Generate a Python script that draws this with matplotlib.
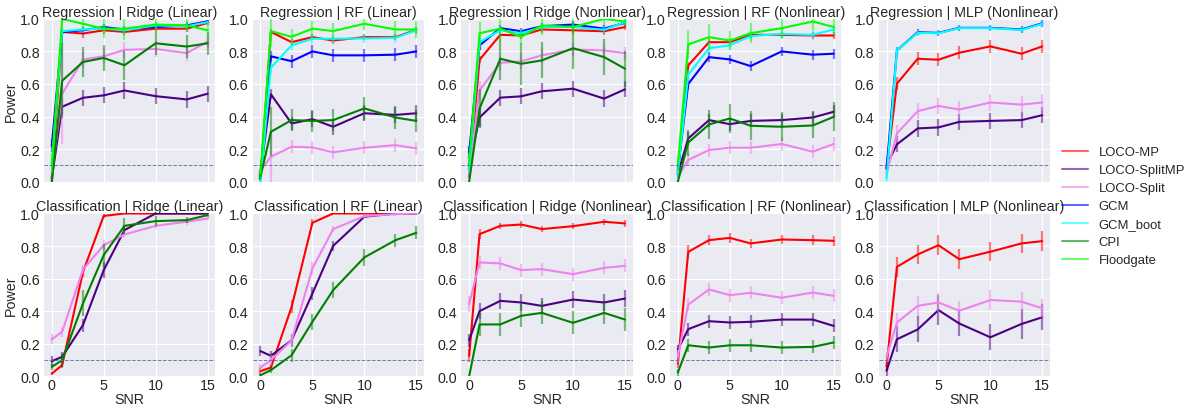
import matplotlib
matplotlib.use('Agg')
import matplotlib.pyplot as plt
from matplotlib.lines import Line2D
import numpy as np

plt.style.use('seaborn-v0_8-darkgrid')
plt.rcParams['font.family'] = ['Liberation Sans', 'DejaVu Sans']

snr = [0, 1, 3, 5, 7, 10, 13, 15]

methods = ['LOCO-MP', 'LOCO-SplitMP', 'LOCO-Split', 'GCM', 'GCM_boot', 'CPI', 'Floodgate']
colors = {'LOCO-MP': 'red', 'LOCO-SplitMP': 'indigo', 'LOCO-Split': 'violet',
          'GCM': 'blue', 'GCM_boot': 'cyan', 'CPI': 'green', 'Floodgate': 'lime'}

titles = ['Regression | Ridge (Linear)', 'Regression | RF (Linear)',
          'Regression | Ridge (Nonlinear)', 'Regression | RF (Nonlinear)',
          'Regression | MLP (Nonlinear)',
          'Classification | Ridge (Linear)', 'Classification | RF (Linear)',
          'Classification | Ridge (Nonlinear)', 'Classification | RF (Nonlinear)',
          'Classification | MLP (Nonlinear)']

# power per panel (mean) and error half-widths
reg_ridge_lin = {
    'LOCO-MP':      [0.02, 0.92, 0.91, 0.93, 0.92, 0.94, 0.94, 0.975],
    'LOCO-SplitMP': [0.02, 0.46, 0.515, 0.53, 0.56, 0.525, 0.505, 0.54],
    'LOCO-Split':   [0.05, 0.54, 0.75, 0.77, 0.81, 0.815, 0.79, 0.86],
    'GCM':          [0.22, 0.92, 0.93, 0.95, 0.935, 0.95, 0.96, 0.985],
    'GCM_boot':     [0.10, 0.925, 0.935, 0.94, 0.93, 0.96, 0.955, 0.98],
    'CPI':          [0.0, 0.62, 0.735, 0.76, 0.715, 0.85, 0.83, 0.85],
    'Floodgate':    [0.10, 1.0, 0.97, 0.94, 0.94, 0.965, 0.96, 0.93],
}
reg_ridge_lin_err = {
    'LOCO-MP':      [0.01, 0.02, 0.03, 0.02, 0.02, 0.02, 0.02, 0.01],
    'LOCO-SplitMP': [0.02, 0.05, 0.05, 0.05, 0.05, 0.05, 0.05, 0.05],
    'LOCO-Split':   [0.03, 0.31, 0.05, 0.05, 0.05, 0.05, 0.05, 0.04],
    'GCM':          [0.04, 0.02, 0.02, 0.02, 0.02, 0.02, 0.02, 0.01],
    'GCM_boot':     [0.03, 0.02, 0.02, 0.02, 0.02, 0.02, 0.02, 0.01],
    'CPI':          [0.0, 0.23, 0.09, 0.08, 0.09, 0.07, 0.07, 0.07],
    'Floodgate':    [0.05, 0.02, 0.03, 0.06, 0.07, 0.04, 0.04, 0.04],
}

reg_rf_lin = {
    'LOCO-MP':      [0.02, 0.92, 0.857, 0.888, 0.867, 0.888, 0.888, 0.933],
    'LOCO-SplitMP': [0.05, 0.537, 0.357, 0.384, 0.337, 0.42, 0.41, 0.42],
    'LOCO-Split':   [0.07, 0.153, 0.214, 0.21, 0.18, 0.208, 0.224, 0.204],
    'GCM':          [0.03, 0.77, 0.74, 0.80, 0.776, 0.776, 0.78, 0.80],
    'GCM_boot':     [0.0, 0.70, 0.837, 0.878, 0.878, 0.88, 0.884, 0.93],
    'CPI':          [0.03, 0.306, 0.378, 0.373, 0.378, 0.45, 0.394, 0.373],
    'Floodgate':    [0.05, 0.925, 0.89, 0.94, 0.925, 0.97, 0.935, 0.935],
}
reg_rf_lin_err = {
    'LOCO-MP':      [0.01, 0.02, 0.02, 0.02, 0.02, 0.02, 0.02, 0.02],
    'LOCO-SplitMP': [0.02, 0.03, 0.04, 0.05, 0.05, 0.05, 0.05, 0.05],
    'LOCO-Split':   [0.02, 0.16, 0.04, 0.04, 0.04, 0.04, 0.04, 0.04],
    'GCM':          [0.02, 0.03, 0.04, 0.04, 0.04, 0.04, 0.04, 0.04],
    'GCM_boot':     [0.02, 0.03, 0.03, 0.03, 0.03, 0.03, 0.03, 0.02],
    'CPI':          [0.02, 0.15, 0.07, 0.07, 0.07, 0.07, 0.07, 0.07],
    'Floodgate':    [0.03, 0.10, 0.05, 0.05, 0.05, 0.04, 0.05, 0.05],
}

reg_ridge_nl = {
    'LOCO-MP':      [0.03, 0.749, 0.902, 0.898, 0.935, 0.93, 0.924, 0.95],
    'LOCO-SplitMP': [0.10, 0.394, 0.516, 0.524, 0.555, 0.571, 0.51, 0.567],
    'LOCO-Split':   [0.05, 0.561, 0.73, 0.739, 0.776, 0.812, 0.806, 0.79],
    'GCM':          [0.18, 0.837, 0.943, 0.924, 0.955, 0.965, 0.94, 0.976],
    'GCM_boot':     [0.08, 0.857, 0.93, 0.912, 0.95, 0.95, 0.933, 0.98],
    'CPI':          [0.0, 0.449, 0.755, 0.724, 0.745, 0.82, 0.765, 0.694],
    'Floodgate':    [0.12, 0.912, 0.94, 0.89, 0.96, 0.95, 1.0, 0.984],
}
reg_ridge_nl_err = {
    'LOCO-MP':      [0.01, 0.02, 0.02, 0.02, 0.02, 0.02, 0.02, 0.02],
    'LOCO-SplitMP': [0.03, 0.06, 0.05, 0.05, 0.05, 0.05, 0.05, 0.05],
    'LOCO-Split':   [0.03, 0.06, 0.05, 0.05, 0.05, 0.04, 0.04, 0.04],
    'GCM':          [0.04, 0.03, 0.02, 0.02, 0.02, 0.02, 0.02, 0.02],
    'GCM_boot':     [0.03, 0.03, 0.02, 0.02, 0.02, 0.02, 0.02, 0.02],
    'CPI':          [0.0, 0.12, 0.13, 0.13, 0.11, 0.13, 0.11, 0.11],
    'Floodgate':    [0.05, 0.07, 0.08, 0.05, 0.06, 0.05, 0.04, 0.03],
}

reg_rf_nl = {
    'LOCO-MP':      [0.05, 0.714, 0.857, 0.857, 0.902, 0.902, 0.898, 0.898],
    'LOCO-SplitMP': [0.05, 0.265, 0.378, 0.353, 0.373, 0.378, 0.394, 0.429],
    'LOCO-Split':   [0.03, 0.133, 0.194, 0.208, 0.208, 0.231, 0.184, 0.231],
    'GCM':          [0.07, 0.60, 0.765, 0.751, 0.71, 0.80, 0.78, 0.786],
    'GCM_boot':     [0.05, 0.657, 0.82, 0.837, 0.894, 0.908, 0.902, 0.935],
    'CPI':          [0.0, 0.24, 0.351, 0.388, 0.343, 0.337, 0.345, 0.398],
    'Floodgate':    [0.10, 0.843, 0.888, 0.867, 0.912, 0.943, 0.984, 0.95],
}
reg_rf_nl_err = {
    'LOCO-MP':      [0.02, 0.02, 0.02, 0.02, 0.02, 0.02, 0.02, 0.02],
    'LOCO-SplitMP': [0.02, 0.04, 0.04, 0.04, 0.04, 0.04, 0.04, 0.04],
    'LOCO-Split':   [0.02, 0.04, 0.04, 0.04, 0.04, 0.04, 0.04, 0.04],
    'GCM':          [0.03, 0.03, 0.03, 0.03, 0.03, 0.03, 0.03, 0.03],
    'GCM_boot':     [0.03, 0.03, 0.03, 0.03, 0.03, 0.03, 0.03, 0.03],
    'CPI':          [0.0, 0.08, 0.09, 0.09, 0.09, 0.09, 0.08, 0.09],
    'Floodgate':    [0.05, 0.09, 0.08, 0.06, 0.06, 0.06, 0.05, 0.05],
}

reg_mlp_nl = {
    'LOCO-MP':      [0.08, 0.602, 0.755, 0.749, 0.792, 0.831, 0.786, 0.831],
    'LOCO-SplitMP': [0.10, 0.229, 0.327, 0.333, 0.367, 0.373, 0.378, 0.408],
    'LOCO-Split':   [0.05, 0.296, 0.433, 0.465, 0.443, 0.486, 0.473, 0.486],
    'GCM':          [0.08, 0.806, 0.918, 0.914, 0.945, 0.945, 0.935, 0.973],
    'GCM_boot':     [0.02, 0.806, 0.914, 0.912, 0.943, 0.943, 0.932, 0.97],
}
reg_mlp_nl_err = {
    'LOCO-MP':      [0.02, 0.04, 0.04, 0.04, 0.04, 0.04, 0.04, 0.04],
    'LOCO-SplitMP': [0.02, 0.05, 0.05, 0.05, 0.05, 0.05, 0.05, 0.05],
    'LOCO-Split':   [0.02, 0.05, 0.05, 0.05, 0.05, 0.05, 0.05, 0.05],
    'GCM':          [0.02, 0.02, 0.02, 0.02, 0.02, 0.02, 0.02, 0.02],
    'GCM_boot':     [0.02, 0.02, 0.02, 0.02, 0.02, 0.02, 0.02, 0.02],
}

cls_ridge_lin = {
    'LOCO-MP':      [0.016, 0.068, 0.64, 0.985, 1.0, 1.0, 1.0, 1.0],
    'LOCO-SplitMP': [0.092, 0.119, 0.314, 0.652, 0.898, 1.0, 1.0, 1.0],
    'LOCO-Split':   [0.227, 0.273, 0.656, 0.805, 0.871, 0.924, 0.949, 0.969],
    'CPI':          [0.057, 0.098, 0.447, 0.744, 0.924, 0.953, 0.959, 0.99],
}
cls_ridge_lin_err = {
    'LOCO-MP':      [0.01, 0.02, 0.03, 0.01, 0.0, 0.0, 0.0, 0.0],
    'LOCO-SplitMP': [0.03, 0.03, 0.04, 0.05, 0.03, 0.01, 0.0, 0.0],
    'LOCO-Split':   [0.03, 0.03, 0.03, 0.03, 0.02, 0.02, 0.02, 0.01],
    'CPI':          [0.02, 0.04, 0.08, 0.07, 0.05, 0.03, 0.02, 0.01],
}

cls_rf_lin = {
    'LOCO-MP':      [0.031, 0.053, 0.426, 0.943, 1.0, 1.0, 1.0, 1.0],
    'LOCO-SplitMP': [0.154, 0.125, 0.221, 0.508, 0.801, 0.98, 1.0, 1.0],
    'LOCO-Split':   [0.053, 0.098, 0.221, 0.662, 0.904, 0.984, 0.996, 1.0],
    'CPI':          [0.006, 0.037, 0.129, 0.334, 0.529, 0.73, 0.836, 0.881],
}
cls_rf_lin_err = {
    'LOCO-MP':      [0.02, 0.02, 0.04, 0.02, 0.0, 0.0, 0.0, 0.0],
    'LOCO-SplitMP': [0.03, 0.03, 0.04, 0.04, 0.03, 0.01, 0.0, 0.0],
    'LOCO-Split':   [0.02, 0.03, 0.04, 0.04, 0.02, 0.01, 0.01, 0.0],
    'CPI':          [0.01, 0.02, 0.04, 0.05, 0.05, 0.05, 0.04, 0.04],
}

cls_ridge_nl = {
    'LOCO-MP':      [0.125, 0.873, 0.924, 0.932, 0.904, 0.922, 0.949, 0.939],
    'LOCO-SplitMP': [0.221, 0.40, 0.463, 0.453, 0.432, 0.471, 0.453, 0.477],
    'LOCO-Split':   [0.443, 0.699, 0.693, 0.652, 0.658, 0.627, 0.666, 0.678],
    'CPI':          [0.0, 0.318, 0.318, 0.371, 0.389, 0.328, 0.389, 0.348],
}
cls_ridge_nl_err = {
    'LOCO-MP':      [0.04, 0.03, 0.02, 0.02, 0.02, 0.02, 0.02, 0.02],
    'LOCO-SplitMP': [0.04, 0.05, 0.05, 0.05, 0.05, 0.05, 0.05, 0.05],
    'LOCO-Split':   [0.05, 0.04, 0.04, 0.04, 0.04, 0.04, 0.04, 0.04],
    'CPI':          [0.0, 0.07, 0.07, 0.07, 0.07, 0.07, 0.07, 0.07],
}

cls_rf_nl = {
    'LOCO-MP':      [0.078, 0.764, 0.836, 0.85, 0.816, 0.84, 0.836, 0.832],
    'LOCO-SplitMP': [0.164, 0.289, 0.338, 0.33, 0.334, 0.348, 0.348, 0.309],
    'LOCO-Split':   [0.12, 0.44, 0.533, 0.498, 0.512, 0.482, 0.514, 0.494],
    'CPI':          [0.023, 0.19, 0.176, 0.19, 0.19, 0.176, 0.18, 0.207],
}
cls_rf_nl_err = {
    'LOCO-MP':      [0.03, 0.04, 0.03, 0.03, 0.03, 0.03, 0.03, 0.03],
    'LOCO-SplitMP': [0.03, 0.04, 0.04, 0.04, 0.04, 0.04, 0.04, 0.04],
    'LOCO-Split':   [0.04, 0.04, 0.04, 0.04, 0.04, 0.04, 0.04, 0.04],
    'CPI':          [0.02, 0.04, 0.04, 0.04, 0.04, 0.04, 0.04, 0.04],
}

cls_mlp_nl = {
    'LOCO-MP':      [0.061, 0.672, 0.748, 0.805, 0.719, 0.765, 0.816, 0.83],
    'LOCO-SplitMP': [0.033, 0.227, 0.287, 0.406, 0.324, 0.239, 0.321, 0.362],
    'LOCO-Split':   [0.119, 0.33, 0.432, 0.453, 0.402, 0.468, 0.458, 0.417],
}
cls_mlp_nl_err = {
    'LOCO-MP':      [0.03, 0.06, 0.06, 0.06, 0.06, 0.06, 0.06, 0.06],
    'LOCO-SplitMP': [0.03, 0.08, 0.08, 0.09, 0.08, 0.08, 0.09, 0.08],
    'LOCO-Split':   [0.03, 0.06, 0.06, 0.06, 0.06, 0.06, 0.06, 0.06],
}

panels = [(reg_ridge_lin, reg_ridge_lin_err), (reg_rf_lin, reg_rf_lin_err),
          (reg_ridge_nl, reg_ridge_nl_err), (reg_rf_nl, reg_rf_nl_err),
          (reg_mlp_nl, reg_mlp_nl_err),
          (cls_ridge_lin, cls_ridge_lin_err), (cls_rf_lin, cls_rf_lin_err),
          (cls_ridge_nl, cls_ridge_nl_err), (cls_rf_nl, cls_rf_nl_err),
          (cls_mlp_nl, cls_mlp_nl_err)]

fs = 10.3
fig, axes = plt.subplots(2, 5, figsize=(11.96, 4.06), dpi=100, sharex=True)
fig.subplots_adjust(left=0.0368, right=0.878, top=0.951, bottom=0.071,
                    wspace=0.218, hspace=0.196)

for i, ax in enumerate(axes.flat):
    vals, errs = panels[i]
    for m in methods:
        if m not in vals:
            continue
        ax.errorbar(snr, vals[m], yerr=errs[m], fmt='none', ecolor=colors[m],
                    elinewidth=1.6, alpha=0.5, capsize=0)
        ax.plot(snr, vals[m], color=colors[m], lw=1.5)
    ax.axhline(0.1, color='#5a74a8', ls='--', lw=0.7, alpha=0.9)
    ax.set_ylim(0, 1.0)
    ax.set_yticks([0.0, 0.2, 0.4, 0.6, 0.8, 1.0])
    ax.set_xticks([0, 5, 10, 15])
    ax.tick_params(axis='y', labelsize=fs, pad=3)
    ax.tick_params(axis='x', labelsize=fs, pad=1.5)
    ax.set_title(titles[i], fontsize=fs, pad=0.5)
    if i % 5 == 0:
        ax.set_ylabel('Power', fontsize=fs, labelpad=1.5)
    if i >= 5:
        ax.set_xlabel('SNR', fontsize=fs, labelpad=-0.5)

handles = [Line2D([0], [0], color=colors[m], lw=1.5, alpha=0.6) for m in methods]
fig.legend(handles, methods, loc='center left', bbox_to_anchor=(0.878, 0.49),
           fontsize=9.4, frameon=False, labelspacing=0.45)

fig.savefig('out.png', dpi=100)
